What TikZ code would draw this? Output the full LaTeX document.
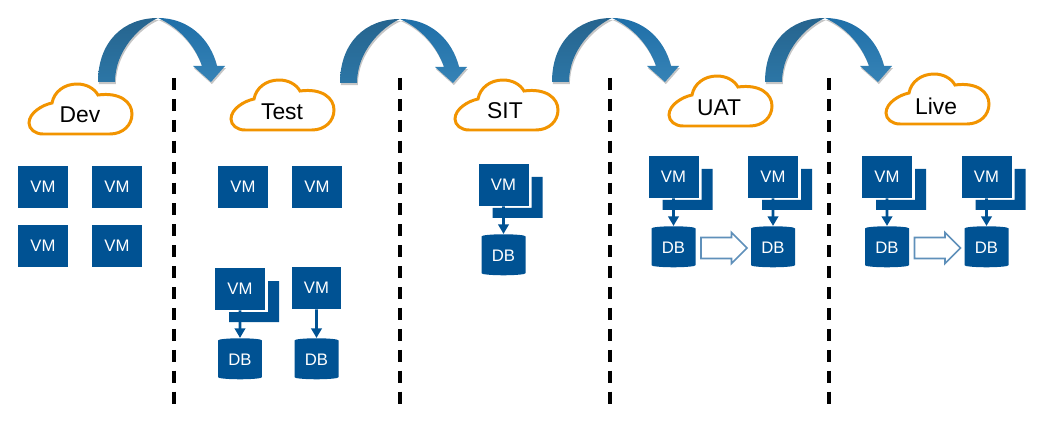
\documentclass[tikz,border=0pt]{standalone}
\usepackage{fontspec}
\setmainfont{Liberation Sans}
\usepackage{tikz}
\usetikzlibrary{shapes.geometric}
\usetikzlibrary{shapes.arrows}
\usetikzlibrary{arrows.meta}
\usetikzlibrary{shadows}
\usetikzlibrary{calc}

\definecolor{vmblue}{HTML}{005293}
\definecolor{cloudorange}{HTML}{F29400}
\definecolor{blockline}{HTML}{5F90BA}
\definecolor{hopdarktop}{HTML}{26648E}
\definecolor{hopdarkbottom}{HTML}{2C76A6}
\definecolor{hoplighttop}{HTML}{1F6FA8}
\definecolor{hoplightbottom}{HTML}{3683B6}

\tikzset{
    vmbox/.style={fill=vmblue, text=white, font=\fontsize{9.5}{11}\selectfont, inner sep=0pt, minimum width=1cm, minimum height=0.84cm},
    dbnode/.style={cylinder, shape border rotate=90, aspect=0.18, fill=vmblue, text=white, font=\fontsize{9.5}{11}\selectfont, inner sep=0pt, minimum width=0.88cm, minimum height=0.82cm},
    flow/.style={->, >={Triangle[length=5.5pt,width=6pt]}, vmblue, line width=1.6pt},
    blockarrow/.style={single arrow, draw=blockline, fill=white, line width=1pt, inner xsep=0pt, inner ysep=0.15cm, minimum height=0.92cm, minimum width=0.62cm, single arrow head extend=0.08cm, single arrow tip angle=90, xshift=-0.09cm},
    divider/.style={black, line width=1.8pt, dash pattern=on 6.8pt off 5.1pt},
    cloudlabel/.style={font=\fontsize{13}{15}\selectfont, inner sep=0pt},
    hopshadow/.style={drop shadow={shadow xshift=0.5pt, shadow yshift=-1.2pt, opacity=0.45}},
    vmback/.pic={
        \fill[vmblue] (28,-8) -- (39,-8) -- (39,33) -- (-11,33) -- (-11,23) -- (28,23) -- cycle;
    },
    cloudshape/.pic={
        \draw[cloudorange, line width=1.7pt, fill=white] (15,51) -- (82,51)
            .. controls (95,51) and (104,42) .. (104,31)
            .. controls (104,19) and (92,9) .. (70,12)
            .. controls (66,5) and (58,1) .. (49,1)
            .. controls (36,1) and (26,9) .. (24,20)
            .. controls (14,22) and (1,30) .. (1,40)
            .. controls (1,46) and (7,51) .. (15,51) -- cycle;
    },
    hoparrow/.pic={
        \path[hopshadow, top color=hopdarktop, bottom color=hopdarkbottom] (0,0)
            .. controls (0,-40) and (25,-64) .. (60,-64)
            .. controls (42,-56) and (17,-32) .. (17,0) -- cycle;
        \path[hopshadow, top color=hoplighttop, bottom color=hoplightbottom] (60,-64)
            .. controls (90,-64) and (112,-44) .. (119,-16)
            -- (127,-16) -- (113,0) -- (95,-16) -- (104,-16)
            .. controls (97,-36) and (82,-54) .. (60,-64) -- cycle;
    },
}

\begin{document}
\begin{tikzpicture}[x=0.02cm, y=-0.02cm]
    \useasboundingbox (0,0) rectangle (1041,432);

    % Hops between stages
    \pic at (98,82) {hoparrow};
    \pic at (340,83) {hoparrow};
    \pic at (552,82) {hoparrow};
    \pic at (765,82) {hoparrow};

    % Dividers
    \draw[divider] (174,78) -- (174,405);
    \draw[divider] (400,78) -- (400,405);
    \draw[divider] (610,78) -- (610,405);
    \draw[divider] (829,78) -- (829,405);

    % Clouds
    \pic at (28,83) {cloudshape};
    \pic at (230,79) {cloudshape};
    \pic at (454,79) {cloudshape};
    \pic at (668,75) {cloudshape};
    \pic at (885,73) {cloudshape};
    \node at (80,115) (dev) [cloudlabel] {Dev};
    \node at (282,112) (test) [cloudlabel] {Test};
    \node at (505,111) (sit) [cloudlabel] {SIT};
    \node at (719,108) (uat) [cloudlabel] {UAT};
    \node at (936,106) (live) [cloudlabel] {Live};

    % Dev
    \node at (43,187) (devA) [vmbox] {VM};
    \node at (117,187) (devB) [vmbox] {VM};
    \node at (43,246) (devC) [vmbox] {VM};
    \node at (117,246) (devD) [vmbox] {VM};

    % Test
    \node at (243,187) (testA) [vmbox] {VM};
    \node at (317,187) (testB) [vmbox] {VM};
    \pic at (240,289) {vmback};
    \node at (240,289) (testC) [vmbox] {VM};
    \node at (316.5,288) (testD) [vmbox] {VM};
    \node at (240,360) (testdbA) [dbnode] {DB};
    \node at (316.5,360) (testdbB) [dbnode] {DB};

    % SIT
    \pic at (503.5,185) {vmback};
    \node at (503.5,185) (sitA) [vmbox] {VM};
    \node at (503.5,256) (sitdb) [dbnode] {DB};

    % UAT
    \pic at (673.5,177) {vmback};
    \node at (673.5,177) (uatA) [vmbox] {VM};
    \pic at (773,177) {vmback};
    \node at (773,177) (uatB) [vmbox] {VM};
    \node at (673.5,248) (uatdbA) [dbnode] {DB};
    \node at (773,248) (uatdbB) [dbnode] {DB};
    \node at ($(uatdbA.east)!0.5!(uatdbB.west)$) (uatcopy) [blockarrow] {};

    % Live
    \pic at (887,177) {vmback};
    \node at (887,177) (liveA) [vmbox] {VM};
    \pic at (986.5,177) {vmback};
    \node at (986.5,177) (liveB) [vmbox] {VM};
    \node at (887,248) (livedbA) [dbnode] {DB};
    \node at (986.5,248) (livedbB) [dbnode] {DB};
    \node at ($(livedbA.east)!0.5!(livedbB.west)$) (livecopy) [blockarrow] {};

    % Arrows
    \draw[flow] (testC) -- (testdbA);
    \draw[flow] (testD) -- (testdbB);
    \draw[flow] (sitA) -- (sitdb);
    \draw[flow] (uatA) -- (uatdbA);
    \draw[flow] (uatB) -- (uatdbB);
    \draw[flow] (liveA) -- (livedbA);
    \draw[flow] (liveB) -- (livedbB);

\end{tikzpicture}
\end{document}
